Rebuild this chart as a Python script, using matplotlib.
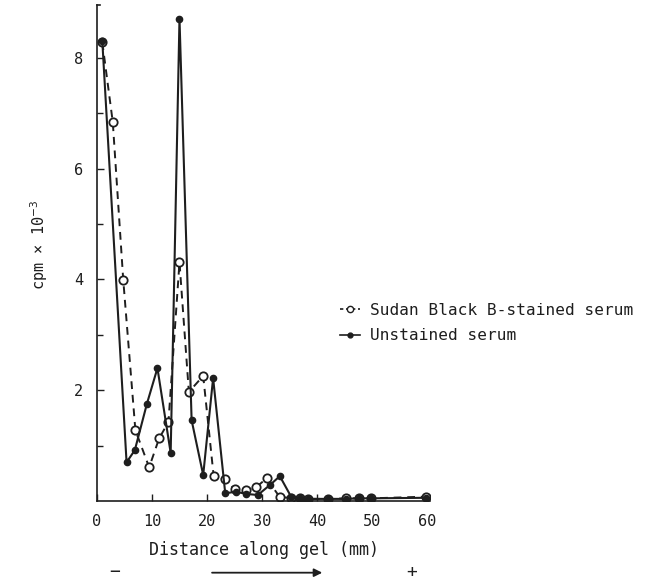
import matplotlib
matplotlib.use("Agg")
import matplotlib.pyplot as plt
from matplotlib.lines import Line2D

# distance along gel (mm) and counts (cpm x 10^-3)
unstained_x = [1, 5.4, 6.9, 9.1, 11.0, 13.4, 15.0, 17.2, 19.3, 21.1, 23.3, 25.2, 27.1,
               29.2, 31.4, 33.2, 35.3, 36.8, 38.3, 41.9, 45.2, 47.5, 49.8, 59.8]
unstained_y = [8.3, 0.70, 0.92, 1.76, 2.40, 0.87, 8.71, 1.46, 0.47, 2.22, 0.14, 0.17, 0.13,
               0.11, 0.29, 0.45, 0.07, 0.05, 0.04, 0.04, 0.04, 0.05, 0.05, 0.06]

sudan_x = [1, 2.9, 4.8, 7.0, 9.5, 11.3, 13.0, 15.0, 16.7, 19.3, 21.2, 23.2, 25.0, 27.1,
           28.9, 30.8, 33.2, 35.3, 36.8, 38.3, 41.9, 45.2, 47.5, 49.8, 59.8]
sudan_y = [8.28, 6.84, 3.99, 1.28, 0.61, 1.13, 1.43, 4.31, 1.97, 2.26, 0.45, 0.39, 0.21, 0.20,
           0.25, 0.41, 0.07, 0.06, 0.05, 0.04, 0.04, 0.05, 0.05, 0.05, 0.08]

ink = '#1e1e1e'
plt.rcParams['font.family'] = ['DejaVu Sans Mono', 'DejaVu Sans']

fig = plt.figure(figsize=(6.54, 5.82), dpi=100)
ax = fig.add_axes([0.148, 0.139, 0.51, 0.852])

ax.plot(sudan_x, sudan_y, linestyle=(0, (4, 3)), color=ink, lw=1.4, marker='o',
        ms=6, mfc='white', mec=ink, mew=1.3, zorder=2)
ax.plot(unstained_x, unstained_y, linestyle='-', color=ink, lw=1.5, marker='o',
        ms=4.5, mfc=ink, mec=ink, zorder=3)

ax.set_xlim(0, 60.5)
ax.set_ylim(0, 8.95)
ax.set_xticks([0, 10, 20, 30, 40, 50, 60])
ax.set_yticks([2, 4, 6, 8])
ax.set_yticks([1, 3, 5, 7], minor=True)
ax.tick_params(direction='in', length=5, width=1, colors=ink, labelsize=11)
ax.tick_params(axis='x', pad=9)
ax.tick_params(axis='y', pad=10)
ax.tick_params(which='minor', direction='in', length=4, width=1, colors=ink)
for s in ['top', 'right']:
    ax.spines[s].set_visible(False)
for s in ['left', 'bottom']:
    ax.spines[s].set_color(ink)
    ax.spines[s].set_linewidth(1.2)
ax.plot([0, 0.6], [8.95, 8.95], color=ink, lw=1.2, clip_on=False)

ax.set_xlabel('Distance along gel (mm)', fontsize=12, color=ink, labelpad=9)
fig.text(0.06, 0.58, 'cpm × 10$^{-3}$', rotation=90, fontsize=11, color=ink,
         ha='center', va='center')

# direction of migration
fig.text(0.176, 0.017, '−', fontsize=13, color=ink, ha='center', va='center')
fig.text(0.630, 0.017, '+', fontsize=13, color=ink, ha='center', va='center')
fig.add_artist(plt.Annotation('', xy=(0.497, 0.016), xytext=(0.32, 0.016),
                              xycoords='figure fraction',
                              arrowprops=dict(arrowstyle='-|>', color=ink, lw=1.3,
                                              mutation_scale=12)))

handles = [Line2D([], [], linestyle=(0, (2, 1.6)), color=ink, lw=1.2, marker='o', ms=4.5,
                  mfc='white', mec=ink),
           Line2D([], [], linestyle='-', color=ink, lw=1.2, marker='o', ms=3.5,
                  mfc=ink, mec=ink)]
fig.legend(handles, ['Sudan Black B-stained serum', 'Unstained serum'],
           loc='center left', bbox_to_anchor=(0.497, 0.445), frameon=False,
           fontsize=11.6, handlelength=1.3, handletextpad=0.6, labelspacing=0.65,
           labelcolor=ink)

fig.savefig('out.png', dpi=100)
